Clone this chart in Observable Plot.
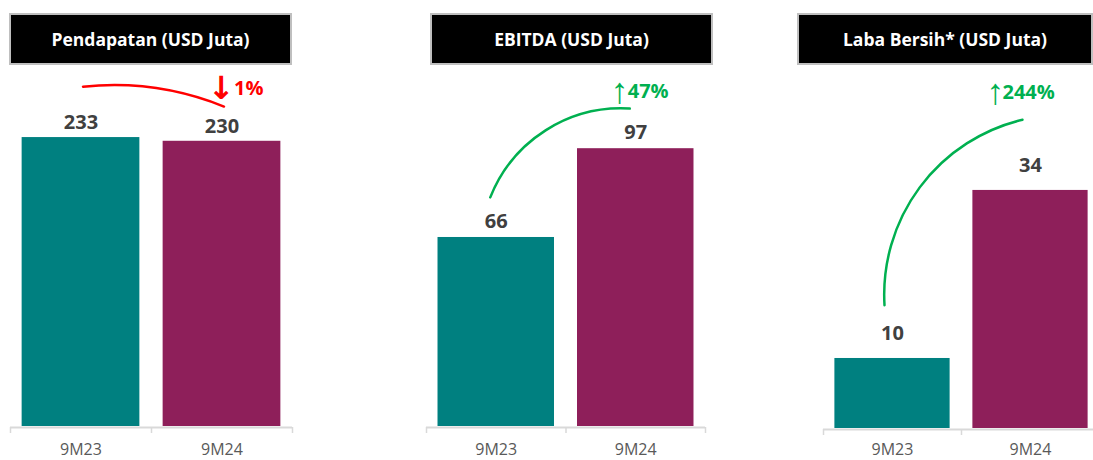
<!DOCTYPE html>
<html>
<head>
<meta charset="utf-8">
<script src="https://cdn.jsdelivr.net/npm/d3@7"></script>
<script src="https://cdn.jsdelivr.net/npm/@observablehq/plot@0.6"></script>
<style>
  html, body { margin: 0; padding: 0; background: #fff; overflow: hidden; }
  #root { position: relative; width: 1093px; height: 460px; overflow: hidden; }
  .title {
    position: absolute; top: 13px; height: 48px; box-sizing: content-box;
    background: #000; border: 2px solid #bfbfbf; color: #fff;
    font: bold 17.5px "Open Sans", sans-serif;
    display: flex; align-items: center; justify-content: center;
  }
</style>
</head>
<body>
<div id="root"></div>
<script>
// ---- data ----
const categories = ["9M23", "9M24"];
const pendapatan = [233, 230];
const ebitda = [66, 97];
const labaBersih = [10, 34];
const titles = ["Pendapatan (USD Juta)", "EBITDA (USD Juta)", "Laba Bersih* (USD Juta)"];
const changeArrows = ["↓", "↑", "↑"];
const changeValues = ["1%", "47%", "244%"];
// annotation positions in data units
const arcStart = [274, 80, 17.6];
const arcEnd = [258, 111, 44.1];
const changeLabelY = [272.5, 117, 48];
const yMax = [290.3, 125.7, 51.7];

// ---- layout / style ----
const colors = ["#008080", "#8E1F5A"];
const changeColors = ["#ff0000", "#00b050", "#00b050"];
const panels = [
  {values: pendapatan, left: 0,   width: 300, ml: 10, mr: 8,  mb: 34, tp: 17, titleLeft: 9,   titleWidth: 279, bend: 14, arcDx: 2,  valDy: -14.5, arrowDx: -0.5, pctDx: 12,
   arrowFont: "'DejaVu Sans', sans-serif", arrowWeight: "bold", arrowSize: 32},
  {values: ebitda,     left: 410, width: 310, ml: 16, mr: 15, mb: 34, tp: 17, titleLeft: 430, titleWidth: 279, bend: 36, arcDx: -6, valDy: -16, arrowDx: -16, pctDx: -8,
   arrowFont: "'Liberation Sans', sans-serif", arrowWeight: "normal", arrowSize: 36},
  {values: labaBersih, left: 800, width: 300, ml: 23, mr: 1,  mb: 32, tp: 15, titleLeft: 797, titleWidth: 292, bend: 40, arcDx: -8, valDy: -24.5, arrowDx: -35, pctDx: -28,
   arrowFont: "'Liberation Sans', sans-serif", arrowWeight: "normal", arrowSize: 36}
];
const H = 394;
const root = document.getElementById("root");

panels.forEach((p, k) => {
  const t = document.createElement("div");
  t.className = "title";
  t.style.left = p.titleLeft + "px";
  t.style.width = p.titleWidth + "px";
  t.textContent = titles[k];
  root.appendChild(t);

  const data = categories.map((c, i) => ({cat: c, value: p.values[i]}));
  const step = (p.width - p.ml - p.mr) / categories.length;
  const chart = Plot.plot({
    width: p.width,
    height: H,
    marginLeft: p.ml,
    marginRight: p.mr,
    marginTop: 0,
    marginBottom: p.mb,
    style: {fontFamily: "'Open Sans', sans-serif", fontSize: "16px", color: "#595959", background: "transparent", overflow: "visible"},
    x: {domain: categories, paddingInner: 0.165, paddingOuter: 0.0825, round: false, label: null},
    y: {domain: [0, yMax[k]], axis: null},
    color: {domain: categories, range: colors},
    marks: [
      Plot.ruleY([0], {stroke: "#d9d9d9", strokeWidth: 2, dy: 1}),
      Plot.axisX({ticks: categories, tickSize: 6, tickFormat: () => "", dx: -step / 2, dy: 1, stroke: "#d9d9d9", strokeWidth: 1.5}),
      Plot.axisX({ticks: [categories[categories.length - 1]], tickSize: 6, tickFormat: () => "", dx: step / 2, dy: 1, stroke: "#d9d9d9", strokeWidth: 1.5}),
      Plot.axisX({tickSize: 0, tickPadding: p.tp, fill: "#595959", fontSize: 16, label: null}),
      Plot.barY(data, {x: "cat", y: "value", fill: "cat"}),
      Plot.text(data, {x: "cat", y: "value", text: d => String(d.value), dy: p.valDy, lineAnchor: "middle", fontSize: 20, fontWeight: "bold", fill: "#404040"}),
      Plot.arrow([0], {x1: () => categories[0], x2: () => categories[1], y1: () => arcStart[k], y2: () => arcEnd[k],
        bend: p.bend, headLength: 0, stroke: changeColors[k], strokeWidth: 2.5, dx: p.arcDx}),
      Plot.text([changeArrows[k]], {x: () => categories[1], y: () => changeLabelY[k], text: d => d, dx: p.arrowDx,
        textAnchor: "middle", lineAnchor: "middle", fontFamily: p.arrowFont, fontSize: p.arrowSize, fontWeight: p.arrowWeight, fill: changeColors[k]}),
      Plot.text([changeValues[k]], {x: () => categories[1], y: () => changeLabelY[k], text: d => d, dx: p.pctDx,
        textAnchor: "start", lineAnchor: "middle", fontSize: 20, fontWeight: "bold", fill: changeColors[k]})
    ]
  });
  chart.style.position = "absolute";
  chart.style.left = p.left + "px";
  chart.style.top = "66px";
  root.appendChild(chart);
});
</script>
</body>
</html>
